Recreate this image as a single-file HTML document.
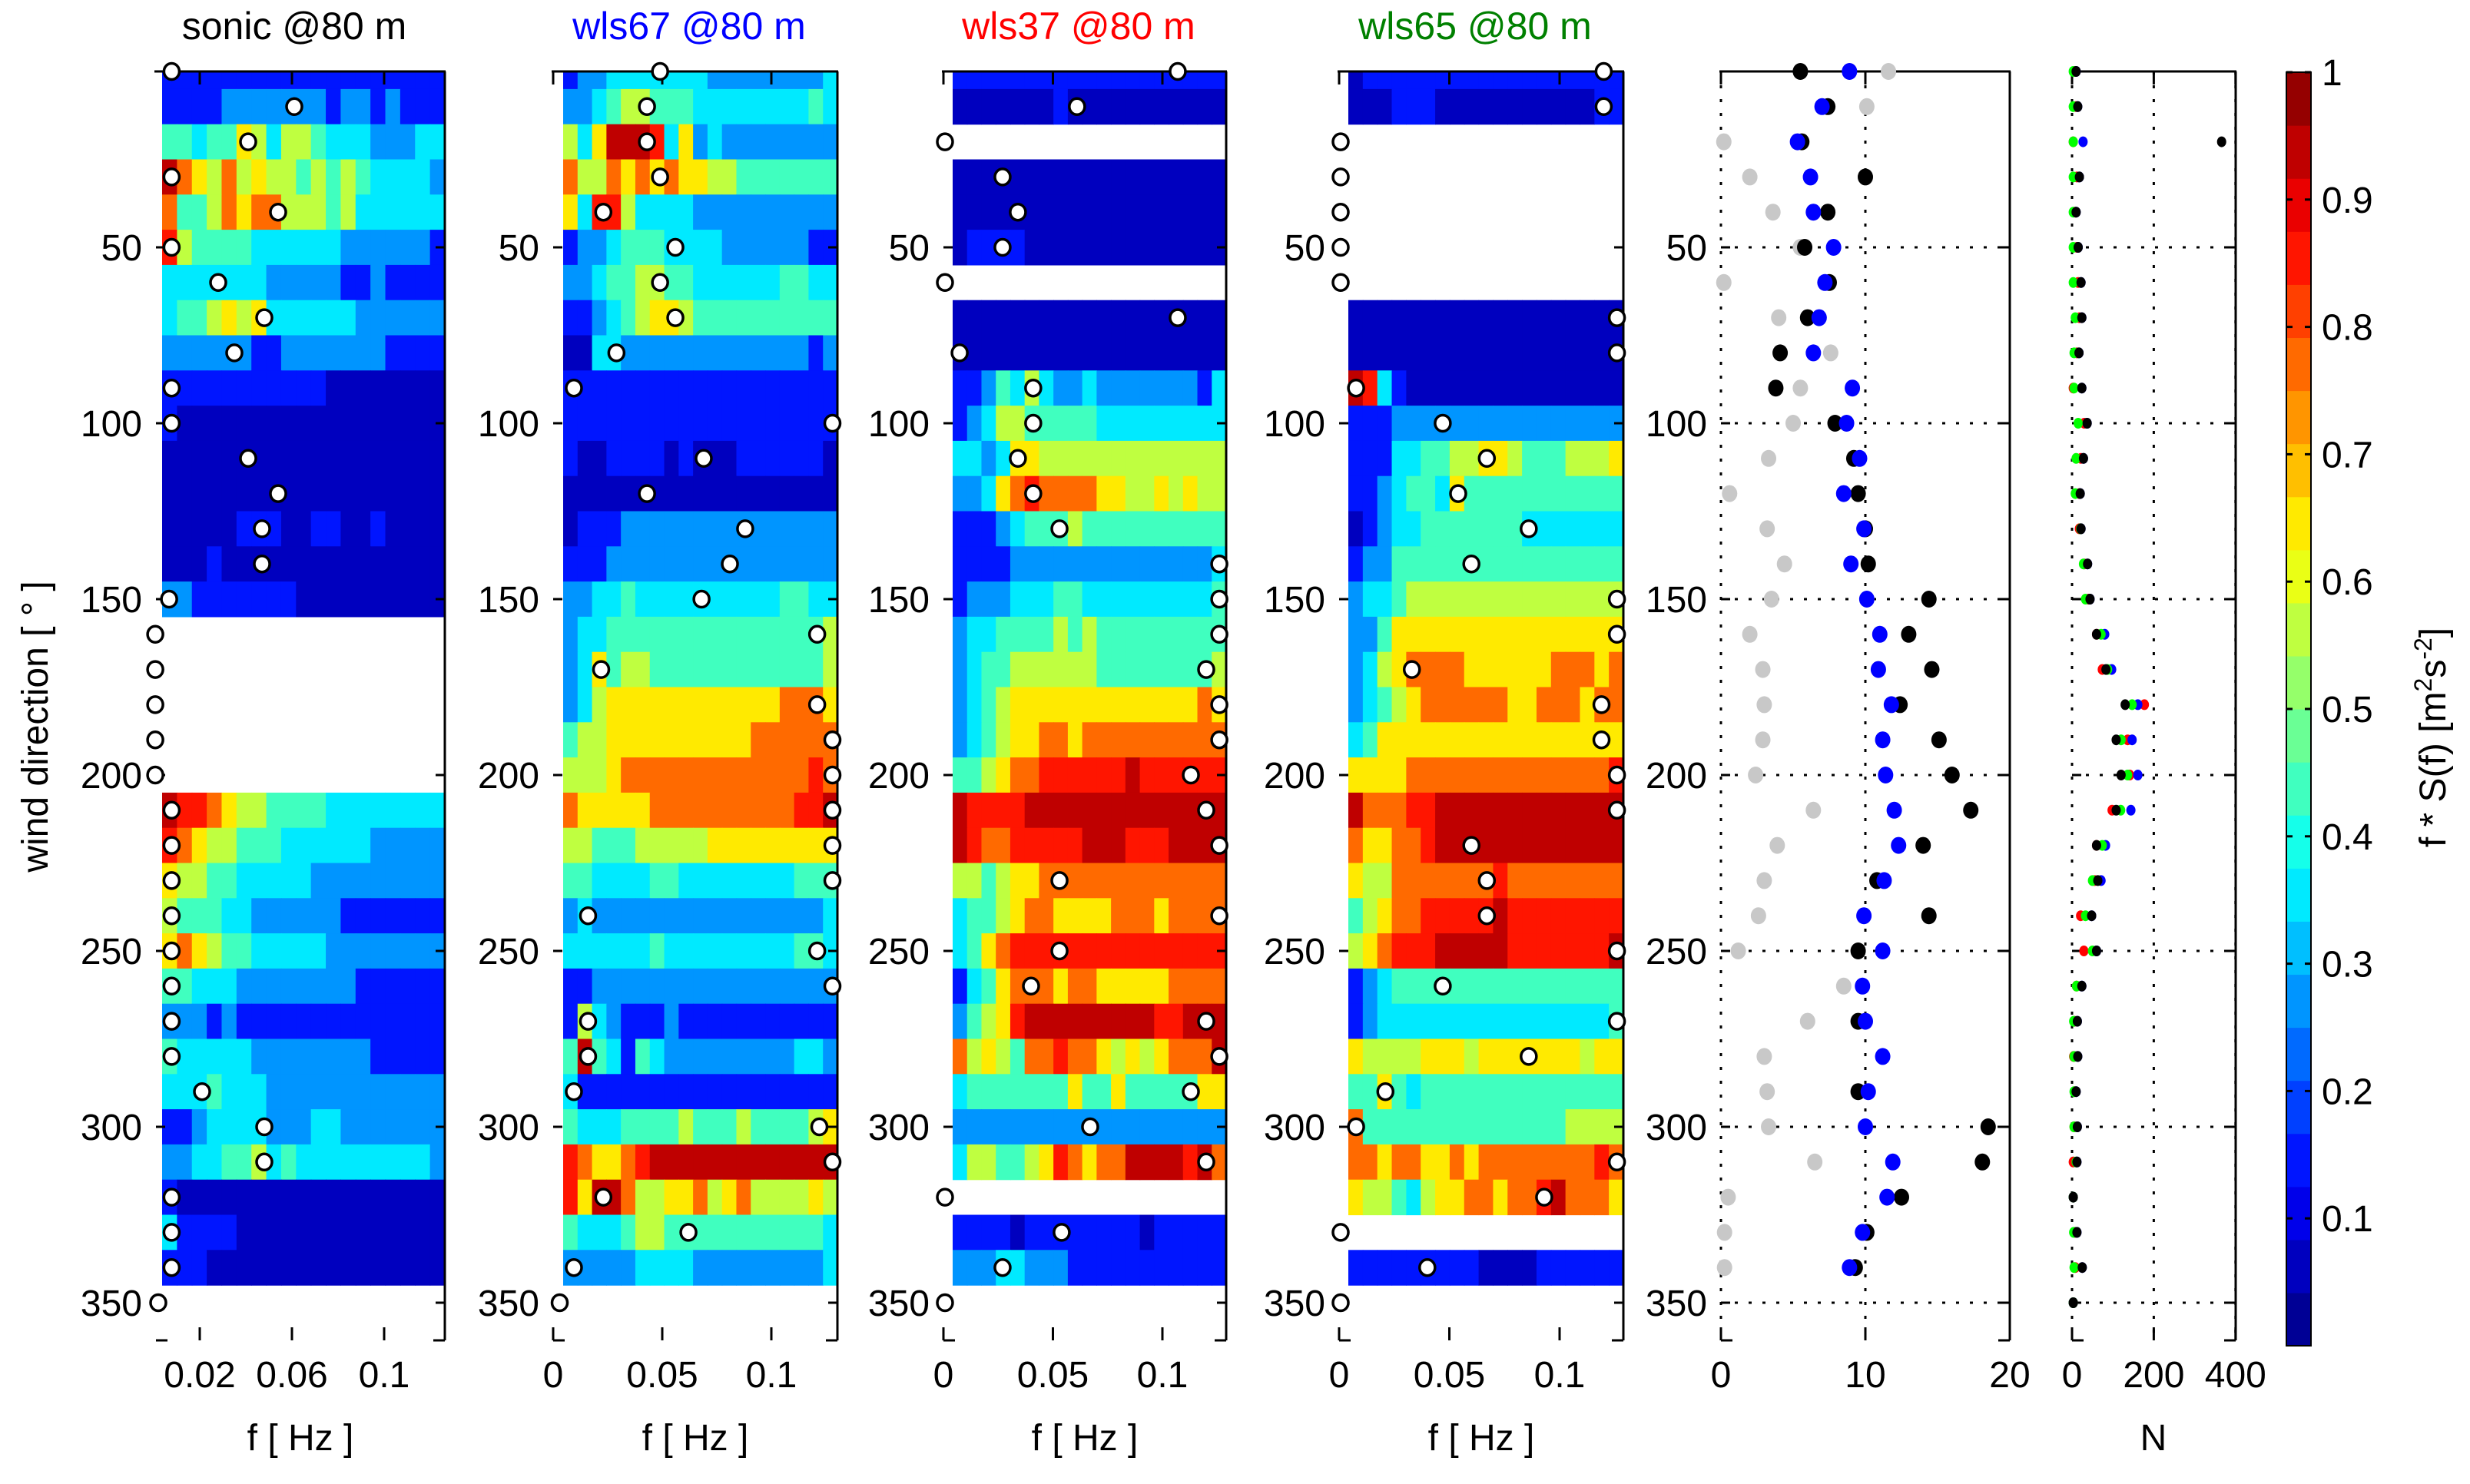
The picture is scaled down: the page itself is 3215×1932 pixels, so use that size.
<!DOCTYPE html>
<html><head><meta charset="utf-8"><style>
html,body{margin:0;padding:0;background:#fff;}
svg{display:block;}
text{font-family:"Liberation Sans",Arial,sans-serif;}
</style></head><body>
<svg id="fig" width="3215" height="1932" viewBox="0 0 3215 1932" xmlns="http://www.w3.org/2000/svg">
<g id="layer"></g>
</svg>
<script>
// ---------- DATA ----------
const heatRows = [0,10,20,30,40,50,60,70,80,90,100,110,120,130,140,150,160,170,180,190,200,210,220,230,240,250,260,270,280,290,300,310,320,330,340];
const circleRows = [0,10,20,30,40,50,60,70,80,90,100,110,120,130,140,150,160,170,180,190,200,210,220,230,240,250,260,270,280,290,300,310,320,330,340,350];
const panelTitles = ["sonic @80 m","wls67 @80 m","wls37 @80 m","wls65 @80 m"];
const yTicks = [50,100,150,200,250,300,350];
const xTicksSonic = [0.02,0.06,0.1];
const xTicksSonicLabels = ["0.02","0.06","0.1"];
const xTicksWls = [0,0.05,0.1];
const xTicksWlsLabels = ["0","0.05","0.1"];
const uTicks = [0,10,20];
const nTicks = [0,200,400];
const cbarTicks = [0.1,0.2,0.3,0.4,0.5,0.6,0.7,0.8,0.9,1];
const cbarTickLabels = ["0.1","0.2","0.3","0.4","0.5","0.6","0.7","0.8","0.9","1"];

// heatmap rows: digit d -> value (d+0.5)/10 ; "-" = no data
const heatSonic = [
"1111111111111111111","1111222222212212111","4434465355433322233","9765756554545433332",
"7445767755545333333","8544443333332222221","3333333222221121111","3445656333333222222",
"2222221122222221111","1111111111100000000","1000000000000000000","0000000000000000000",
"0000000000000000000","0000011100110010000","0001000000000000000","2211111110000000000",
"-","-","-","-","-",
"9887655444433333333","8765544433333322222","6554433333222222222","5444332222221111111",
"6765443333322222222","4433322222222111111","2221211111111111111","4333332222222211111",
"3334333222222222222","1123333222332222222","2233445343333333332","1000000000000000000",
"3111100000000000000","1110000000000000000"];
const heatWls67 = [
"1223333333222222223","2234554443333333343","5369998362322222222","7557676766554444444",
"6388533332222222222","1223444333322222211","2234455443333334433","1123456654444444444",
"0033222222222222212","1111111111111111111","1111111111111111111","1001111010001111110",
"0000000000000000000","0111222222222222222","1112222222222222222","2233433333333334433",
"2334444444444444445","2364554444444444445","2356666666666667776","4556666666666777777",
"5556777777777777787","7666667777777777889","5544455555666666666","4433334433333333444",
"2322222222222222223","3333334333333333443","1122222222222222222","1532111211111111111",
"4943143222222222332","3111111111111111111","4333444454445444456","8766789999999999999",
"8699755667567555565","4333455444444444443","2222233332222222223"];
const heatWls37 = [
"1111111111111111111","0000000100000000000","-","0000000000000000000",
"0000000000000000000","0111100000000000000","-","0000000000000000000",
"0000000000000000000","1124353223222222213","1235544444333333333","3323665555555555555",
"2236787777665565655","1112344454444444444","1111222222222222223","1222333443333333334",
"2334444545444444444","2344555555444444445","2345666666666666676","2345667767777777777",
"4456778888889888888","9888899999999999999","9877888889998889999","5545667777777777777",
"3445677666677767777","3467888888888888888","1346777677666667777","2456899999999988999",
"7565477877656567779","3444444464464444466","2222222222222222222","3554456876779999897",
"-","1111011111111011111","2223322211111111111"];
const heatWls65 = [
"0111111111111111111","0001110000000000011","-","-","-","-","-",
"0000000000000000000","0000000000000000000","9831000000000000000","1112222222222222222",
"1113344556654445556","1123443644444444444","0123344444443333333","1224444444444444444",
"2334555555555555555","2246666666666666666","2356777766666677767","2345677777766777677",
"3466666666666666666","6666777777777777778","9777889999999999999","7667789999999999999",
"6557777777877777777","4567788888988888888","5678889999988888889","1234444444444444444",
"1233333333333333334","6555566656666666566","4464344444444444444","7444444444444445555",
"7767766767777777787","6554356677677897776","-","1111111110000111111"];

// peak frequency circles [Hz], one per circleRows entry
const peakSonic = [0.0078,0.061,0.041,0.0078,0.054,0.0078,0.028,0.048,0.035,0.0078,0.0078,0.041,0.054,0.047,0.047,0.0067,0.0007,0.0007,0.0007,0.0007,0.0007,0.0078,0.0078,0.0078,0.0078,0.0078,0.0078,0.0078,0.0078,0.021,0.048,0.048,0.0078,0.0078,0.0078,0.002];
const peakWls67 = [0.049,0.043,0.043,0.049,0.023,0.056,0.049,0.056,0.029,0.0095,0.128,0.069,0.043,0.088,0.081,0.068,0.121,0.022,0.121,0.128,0.128,0.128,0.128,0.128,0.016,0.121,0.128,0.016,0.016,0.0095,0.122,0.128,0.023,0.062,0.0095,0.003];
const peakWls37 = [0.107,0.061,0.0007,0.027,0.034,0.027,0.0007,0.107,0.0074,0.041,0.041,0.034,0.041,0.053,0.126,0.126,0.126,0.120,0.126,0.126,0.113,0.120,0.126,0.053,0.126,0.053,0.040,0.120,0.126,0.113,0.067,0.120,0.0007,0.054,0.027,0.0007];
const peakWls65 = [0.120,0.120,0.0007,0.0007,0.0007,0.0007,0.0007,0.126,0.126,0.0077,0.047,0.067,0.054,0.086,0.060,0.126,0.126,0.033,0.119,0.119,0.126,0.126,0.060,0.067,0.067,0.126,0.047,0.126,0.086,0.021,0.0077,0.126,0.093,0.0007,0.040,0.0007];

// wind speed panel (black, blue, gray) per circleRows; null = none
const speedBlack = [5.5,7.4,5.6,10,7.4,5.8,7.5,6,4.1,3.8,7.9,9.2,9.5,10,10.2,14.4,13,14.6,12.4,15.1,16,17.3,14,10.8,14.4,9.5,null,9.5,null,9.5,18.5,18.1,12.5,10.1,9.3,null];
const speedBlue = [8.9,7,5.3,6.2,6.4,7.8,7.2,6.8,6.4,9.1,8.7,9.6,8.5,9.9,9,10.1,11,10.9,11.8,11.2,11.4,12,12.3,11.3,9.9,11.2,9.8,10,11.2,10.2,10,11.9,11.5,9.8,8.9,null];
const speedGray = [11.6,10.1,0.2,2,3.6,5.5,0.2,4,7.6,5.5,5,3.3,0.6,3.2,4.4,3.5,2,2.9,3,2.9,2.4,6.4,3.9,3,2.6,1.2,8.5,6,3,3.2,3.3,6.5,0.5,0.25,0.25,null];

// sample count panel
const countRed = [8,10,3,12,8,12,15,18,12,3,30,22,18,18,30,40,60,74,177,136,141,98,60,55,21,29,11,6,4,6,5,3,3,8,8,3];
const countBlue = [10,14,27,18,10,15,22,24,17,24,37,28,20,22,38,44,80,97,161,147,161,144,82,71,48,60,24,13,14,10,13,12,3,12,25,3];
const countGreen = [3,3,3,3,3,3,3,8,5,5,15,10,8,21,28,33,71,87,147,120,136,119,74,50,33,50,11,4,5,5,5,10,3,4,5,3];
const countBlack = [10,14,366,18,10,15,22,24,17,24,37,28,20,22,38,44,60,83,130,108,120,108,60,63,48,60,24,13,14,10,13,12,3,12,25,3];

// ---------- RENDER ----------
const NS="http://www.w3.org/2000/svg";
const root=document.getElementById('layer');
function el(tag,attrs,parent){const e=document.createElementNS(NS,tag);for(const k in attrs)e.setAttribute(k,attrs[k]);(parent||root).appendChild(e);return e;}
const Y0=93, YS=4.58, YBOT=1745, YTOP=93;
function yOf(d){return Y0+d*YS;}
function jet(v){
  const n=24;let i=Math.floor(v*n);if(i>n-1)i=n-1;if(i<0)i=0;const t=(i+0.5)/n;
  const c=x=>Math.round(255*Math.max(0,Math.min(1,x)));
  return "rgb("+c(1.5-Math.abs(4*t-3))+","+c(1.5-Math.abs(4*t-2))+","+c(1.5-Math.abs(4*t-1))+")";
}
const panels=[
 {left:203,right:579,x0:200,sc:3000,hx0:211,data:heatSonic,peaks:peakSonic,ticks:xTicksSonic,labels:xTicksSonicLabels,color:"#000",name:"sonic"},
 {left:720,right:1090,x0:720,sc:2840,hx0:733,data:heatWls67,peaks:peakWls67,ticks:xTicksWls,labels:xTicksWlsLabels,color:"#0000ff",name:"wls67"},
 {left:1228,right:1596,x0:1228,sc:2850,hx0:1240,data:heatWls37,peaks:peakWls37,ticks:xTicksWls,labels:xTicksWlsLabels,color:"#ff0000",name:"wls37"},
 {left:1743,right:2113,x0:1743,sc:2870,hx0:1755,data:heatWls65,peaks:peakWls65,ticks:xTicksWls,labels:xTicksWlsLabels,color:"#008000",name:"wls65"}
];
function frame(g,left,right,xt,xfun,showYLabels,dotted){
  // ticks
  yTicks.forEach(d=>{const y=yOf(d);
    if(dotted){const gl=el('line',{x1:left,y1:y,x2:right,y2:y,stroke:'#000','stroke-width':3,'stroke-dasharray':'4,14'},g);
      }
    el('line',{x1:left,y1:y,x2:left+12,y2:y,stroke:'#000','stroke-width':3},g);
    el('line',{x1:right-12,y1:y,x2:right,y2:y,stroke:'#000','stroke-width':3},g);
    if(showYLabels){const t=el('text',{x:left-18,y:y+17,'font-size':48,'text-anchor':'end'},g);t.textContent=d;
      }
  });
  xt.forEach(v=>{const x=xfun(v);
    if(dotted){const gl=el('line',{x1:x,y1:YTOP,x2:x,y2:YBOT,stroke:'#000','stroke-width':3,'stroke-dasharray':'4,14'},g);
      }
    el('line',{x1:x,y1:YTOP,x2:x,y2:YTOP+17,stroke:'#000','stroke-width':3},g);
    el('line',{x1:x,y1:YBOT-17,x2:x,y2:YBOT,stroke:'#000','stroke-width':3},g);
  });
  el('line',{x1:left-2,y1:YTOP,x2:right+1,y2:YTOP,stroke:'#000','stroke-width':3},g);
  el('line',{x1:right,y1:YTOP,x2:right,y2:YBOT,stroke:'#000','stroke-width':3},g);
  el('line',{x1:left,y1:YBOT,x2:left+15,y2:YBOT,stroke:'#000','stroke-width':3},g);
  el('line',{x1:right-15,y1:YBOT,x2:right,y2:YBOT,stroke:'#000','stroke-width':3},g);
}
panels.forEach((p,pi)=>{
  const g=el('g',{});
  
  
  const xf=f=>p.x0+p.sc*f;
  const ncol=19, cw=(p.right-p.hx0)/ncol;
  p.data.forEach((row,ri)=>{
    if(row==="-")return;
    const c=heatRows[ri];const ya=yOf(Math.max(0,c-5)), yb=yOf(c+5);
    for(let j=0;j<ncol;j++){
      const v=(parseInt(row[j])+0.5)/10;
      const r=el('rect',{x:(p.hx0+j*cw).toFixed(2),y:ya.toFixed(2),width:(cw+0.6).toFixed(2),height:(yb-ya+0.6).toFixed(2),fill:jet(v)},g);
      
      
    }
  });
  frame(g,p.left,p.right,p.ticks,xf,true,false);
  p.peaks.forEach((f,i)=>{
    const c=el('ellipse',{cx:xf(f),cy:yOf(circleRows[i]),rx:10,ry:10.5,fill:'#fff',stroke:'#000','stroke-width':3.5},g);
    
    
  });
  p.ticks.forEach((v,i)=>{const t=el('text',{x:xf(v),y:1806,'font-size':48,'text-anchor':'middle'},g);t.textContent=p.labels[i];
    });
  const xl=el('text',{x:(p.left+p.right)/2,y:1888,'font-size':48,'text-anchor':'middle'},g);xl.textContent="f [ Hz ]";
  
  const tt=el('text',{x:(p.left+p.right)/2-8,y:51,'font-size':50,'text-anchor':'middle',fill:p.color},g);tt.textContent=panelTitles[pi];
  
});
// y-axis title
const yt=el('text',{x:0,y:0,'font-size':48,'text-anchor':'middle',transform:'translate(62,946) rotate(-90)'});
yt.textContent="wind direction [ \u00B0 ]";



// speed panel
(function(){
  const g=el('g',{});
  
  
  const L=2240,R=2616,xf=v=>L+18.8*v;
  frame(g,L,R,uTicks,xf,true,true);
  const series=[[speedGray,'#c8c8c8','speed-gray'],[speedBlack,'#000','speed-black'],[speedBlue,'#0000ff','speed-blue']];
  series.forEach(s=>{s[0].forEach((v,i)=>{if(v===null)return;
    const c=el('ellipse',{cx:xf(v),cy:yOf(circleRows[i]),rx:10,ry:11,fill:s[1]},g);
    
    });});
  uTicks.forEach(v=>{const t=el('text',{x:xf(v),y:1806,'font-size':48,'text-anchor':'middle'},g);t.textContent=v;
    });
})();
// count panel
(function(){
  const g=el('g',{});
  
  
  const L=2697,R=2910,xf=v=>L+0.532*v;
  frame(g,L,R,nTicks,xf,false,true);
  const series=[[countRed,'#ff0000','count-red'],[countBlue,'#0000ff','count-blue'],[countGreen,'#00ff00','count-green'],[countBlack,'#000','count-black']];
  series.forEach(s=>{s[0].forEach((v,i)=>{
    const c=el('ellipse',{cx:xf(v),cy:yOf(circleRows[i]),rx:6,ry:7,fill:s[1]},g);
    
    });});
  nTicks.forEach(v=>{const t=el('text',{x:xf(v),y:1806,'font-size':48,'text-anchor':'middle'},g);t.textContent=v;
    });
  const xl=el('text',{x:2803,y:1888,'font-size':48,'text-anchor':'middle'},g);xl.textContent="N";
  
})();
// colorbar
(function(){
  const g=el('g',{});
  
  
  const L=2976,R=3008,T=94,B=1752,n=24,h=(B-T)/n;
  for(let i=0;i<n;i++){const r=el('rect',{x:L,y:(B-(i+1)*h).toFixed(2),width:R-L,height:(h+0.6).toFixed(2),fill:jet((i+0.5)/n)},g);
    }
  el('rect',{x:L,y:T,width:R-L,height:B-T,fill:'none',stroke:'#000','stroke-width':2},g);
  cbarTicks.forEach((v,i)=>{const y=B-(B-T)*v;
    el('line',{x1:L,y1:y,x2:L+8,y2:y,stroke:'#000','stroke-width':3},g);
    el('line',{x1:R-8,y1:y,x2:R,y2:y,stroke:'#000','stroke-width':3},g);
    const t=el('text',{x:3022,y:y+17,'font-size':48},g);t.textContent=cbarTickLabels[i];
    });
  const ct=el('text',{x:0,y:0,'font-size':48,'text-anchor':'middle',transform:'translate(3183,960) rotate(-90)'},g);
  ct.innerHTML='f * S(f) [m<tspan baseline-shift="super" font-size="32">2</tspan>s<tspan baseline-shift="super" font-size="32">-2</tspan>]';
  
  
})();
</script>
</body></html>
